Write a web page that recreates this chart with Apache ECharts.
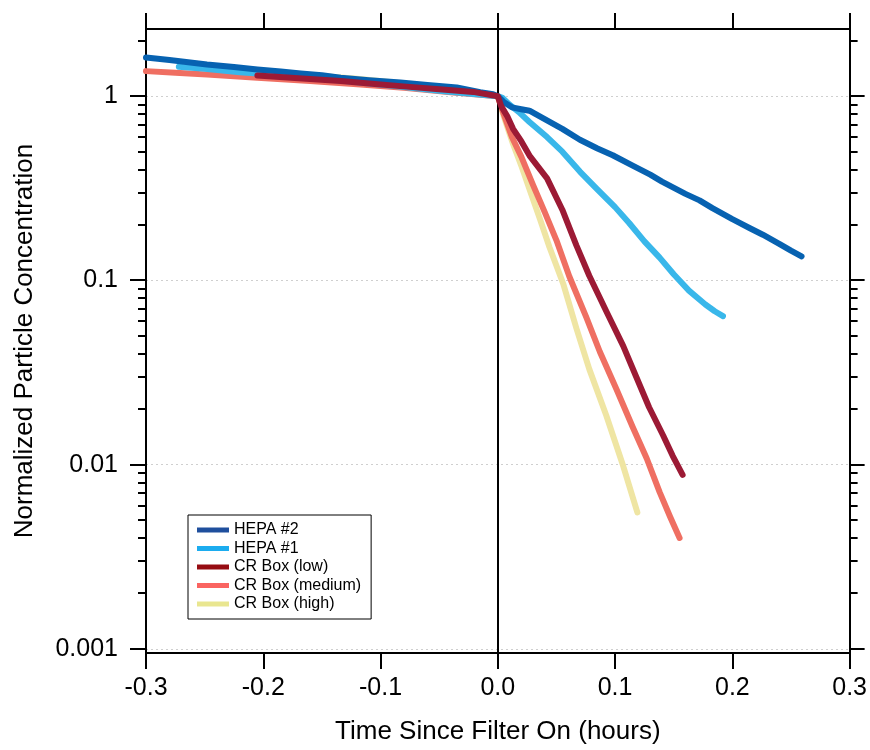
<!DOCTYPE html>
<html><head><meta charset="utf-8">
<script src="https://cdn.jsdelivr.net/npm/echarts@6/dist/echarts.min.js"></script>
<style>html,body{margin:0;padding:0;background:#fff}#c{width:870px;height:750px}</style>
</head><body><div id="c"></div>
<script>
// ---- data (time in hours, normalized concentration) ----
const seriesNames = ['HEPA #2', 'HEPA #1', 'CR Box (low)', 'CR Box (medium)', 'CR Box (high)'];
const hepa2 = [[-0.300,1.62],[-0.280,1.57],[-0.248,1.486],[-0.225,1.44],[-0.205,1.397],[-0.185,1.36],[-0.168,1.33],[-0.150,1.30],[-0.134,1.26],[-0.110,1.22],[-0.083,1.185],[-0.060,1.15],[-0.035,1.114],[-0.015,1.05],[-0.004,1.025],[0.000,1.0],[0.005,0.93],[0.012,0.87],[0.020,0.85],[0.027,0.834],[0.040,0.75],[0.055,0.665],[0.070,0.58],[0.085,0.52],[0.098,0.478],[0.115,0.42],[0.130,0.375],[0.140,0.344],[0.160,0.295],[0.172,0.272],[0.183,0.247],[0.200,0.215],[0.215,0.192],[0.226,0.177],[0.240,0.158],[0.250,0.145],[0.259,0.135]];
const hepa1 = [[-0.272,1.445],[-0.250,1.41],[-0.220,1.35],[-0.177,1.29],[-0.130,1.21],[-0.090,1.14],[-0.050,1.07],[0.000,1.0],[0.004,0.98],[0.010,0.90],[0.018,0.82],[0.027,0.724],[0.042,0.60],[0.055,0.50],[0.070,0.39],[0.084,0.316],[0.100,0.25],[0.112,0.205],[0.125,0.163],[0.138,0.133],[0.150,0.108],[0.163,0.088],[0.177,0.074],[0.185,0.068],[0.192,0.064]];
const crLow = [[-0.205,1.297],[-0.170,1.25],[-0.134,1.208],[-0.105,1.165],[-0.078,1.127],[-0.050,1.09],[-0.021,1.055],[0.000,1.0],[0.003,0.88],[0.008,0.78],[0.013,0.665],[0.020,0.57],[0.027,0.476],[0.042,0.358],[0.055,0.242],[0.067,0.155],[0.078,0.106],[0.0925,0.068],[0.107,0.044],[0.118,0.030],[0.129,0.0205],[0.141,0.0144],[0.149,0.0112],[0.1576,0.0088]];
const crMedium = [[-0.300,1.368],[-0.275,1.34],[-0.248,1.313],[-0.205,1.26],[-0.160,1.21],[-0.120,1.16],[-0.080,1.11],[-0.040,1.05],[0.000,1.0],[0.005,0.80],[0.012,0.60],[0.020,0.47],[0.030,0.33],[0.040,0.235],[0.050,0.165],[0.061,0.105],[0.0755,0.063],[0.087,0.041],[0.101,0.0258],[0.115,0.016],[0.127,0.0108],[0.138,0.0071],[0.147,0.0052],[0.155,0.0040]];
const crHigh = [[-0.168,1.313],[-0.145,1.28],[-0.120,1.245],[-0.090,1.19],[-0.060,1.13],[-0.030,1.07],[0.000,1.0],[0.005,0.78],[0.013,0.55],[0.020,0.42],[0.028,0.30],[0.036,0.215],[0.044,0.152],[0.056,0.095],[0.067,0.055],[0.078,0.033],[0.0925,0.0185],[0.107,0.0098],[0.119,0.0055]];

const xTickValues = [-0.3, -0.2, -0.1, 0.0, 0.1, 0.2, 0.3];
const yMajorTicks = [0.001, 0.01, 0.1, 1];
const yTickLabels = ['0.001', '0.01', '0.1', '1'];
const yMinorTicks = [0.002,0.003,0.004,0.005,0.006,0.007,0.008,0.009,
                     0.02,0.03,0.04,0.05,0.06,0.07,0.08,0.09,
                     0.2,0.3,0.4,0.5,0.6,0.7,0.8,0.9,2];

const colors = {
  'HEPA #2': '#0762b1',
  'HEPA #1': '#39b7ea',
  'CR Box (low)': '#9c1a35',
  'CR Box (medium)': '#ef6f62',
  'CR Box (high)': '#efe5a3'
};
const legendColors = {
  'HEPA #2': '#1f4f9d',
  'HEPA #1': '#1cacef',
  'CR Box (low)': '#960c12',
  'CR Box (medium)': '#fa6461',
  'CR Box (high)': '#e9e690'
};

const FONT = 'Liberation Sans, Arial, Helvetica, sans-serif';
const chart = echarts.init(document.getElementById('c'), null, {renderer: 'canvas'});

function mkSeries(name, data, z) {
  return {
    name: name, type: 'line', data: data, showSymbol: false, symbol: 'none',
    xAxisIndex: 0, yAxisIndex: 0, z: z, animation: false,
    lineStyle: {color: colors[name], width: 6, cap: 'round', join: 'round'},
    itemStyle: {color: colors[name]}
  };
}

const series = [
  mkSeries('CR Box (high)', crHigh, 2),
  mkSeries('CR Box (medium)', crMedium, 3),
  mkSeries('HEPA #1', hepa1, 4),
  mkSeries('HEPA #2', hepa2, 5),
  mkSeries('CR Box (low)', crLow, 6)
];
series[0].markLine = {
  silent: true, symbol: 'none', animation: false,
  label: {show: false},
  lineStyle: {color: '#000', width: 2, type: 'solid'},
  data: [{xAxis: 0}]
};

const xAxisCommon = {
  type: 'value', min: -0.3, max: 0.3, interval: 0.1,
  axisLine: {show: true, onZero: false, lineStyle: {color: '#000', width: 2}},
  axisTick: {show: true, inside: false, length: 16, lineStyle: {color: '#000', width: 2}},
  splitLine: {show: false}
};

const option = {
  animation: false,
  backgroundColor: '#fff',
  grid: {left: 146, right: 19, top: 29, bottom: 91, containLabel: false},
  legend: {
    data: seriesNames.map(n => ({name: n, itemStyle: {color: legendColors[n]}})),
    orient: 'vertical', left: 188, top: 515,
    icon: 'rect', itemWidth: 32, itemHeight: 5, itemGap: 2.5,
    padding: [7, 10, 7, 9],
    borderColor: '#000', borderWidth: 1, backgroundColor: '#fff',
    textStyle: {fontFamily: FONT, fontSize: 16, color: '#000', lineHeight: 16}
  },
  xAxis: [
    Object.assign({}, xAxisCommon, {
      position: 'bottom',
      axisLabel: {show: true, fontFamily: FONT, fontSize: 25, color: '#000', margin: 23,
        formatter: v => v.toFixed(1)},
      name: 'Time Since Filter On (hours)', nameLocation: 'middle', nameGap: 66,
      nameTextStyle: {fontFamily: FONT, fontSize: 26, color: '#000'}
    }),
    Object.assign({}, xAxisCommon, {position: 'top', axisLabel: {show: false}})
  ],
  yAxis: [
    {
      type: 'log', logBase: 10, min: 0.00095, max: 2.316, position: 'left',
      axisLine: {show: true, onZero: false, lineStyle: {color: '#000', width: 2}},
      axisTick: {show: false},
      axisLabel: {show: true, fontFamily: FONT, fontSize: 25, color: '#000', margin: 28,
        showMinLabel: false, showMaxLabel: false,
        formatter: function (v) {
          for (let i = 0; i < yMajorTicks.length; i++) {
            if (Math.abs(Math.log10(v) - Math.log10(yMajorTicks[i])) < 1e-6) return yTickLabels[i];
          }
          return '';
        }},
      splitLine: {show: true, lineStyle: {color: '#cfcfcf', width: 1, type: [2, 3]}},
      name: 'Normalized Particle Concentration', nameLocation: 'middle', nameGap: 108,
      nameTextStyle: {fontFamily: FONT, fontSize: 26, color: '#000'}
    },
    {
      type: 'log', logBase: 10, min: 0.00095, max: 2.316, position: 'right',
      axisLine: {show: true, onZero: false, lineStyle: {color: '#000', width: 2}},
      axisTick: {show: false}, axisLabel: {show: false}, splitLine: {show: false}
    }
  ],
  series: series
};

chart.setOption(option);

// y-axis tick marks (major + minor, both sides) placed via the axis scale
const leftX = chart.convertToPixel({xAxisIndex: 0}, -0.3);
const rightX = chart.convertToPixel({xAxisIndex: 0}, 0.3);
const gfx = [];
function addTick(v, isMajor) {
  const y = Math.round(chart.convertToPixel({yAxisIndex: 0}, v));
  const lenL = isMajor ? 16 : 8;
  const lenR = isMajor ? 15 : 8;
  gfx.push({type: 'line', silent: true, z: 50,
    shape: {x1: leftX - lenL, y1: y, x2: leftX, y2: y},
    style: {stroke: '#000', lineWidth: 2}});
  gfx.push({type: 'line', silent: true, z: 50,
    shape: {x1: rightX, y1: y, x2: rightX + lenR, y2: y},
    style: {stroke: '#000', lineWidth: 2}});
}
yMajorTicks.forEach(v => addTick(v, true));
yMinorTicks.forEach(v => addTick(v, false));
chart.setOption({graphic: gfx});
</script>
</body></html>
